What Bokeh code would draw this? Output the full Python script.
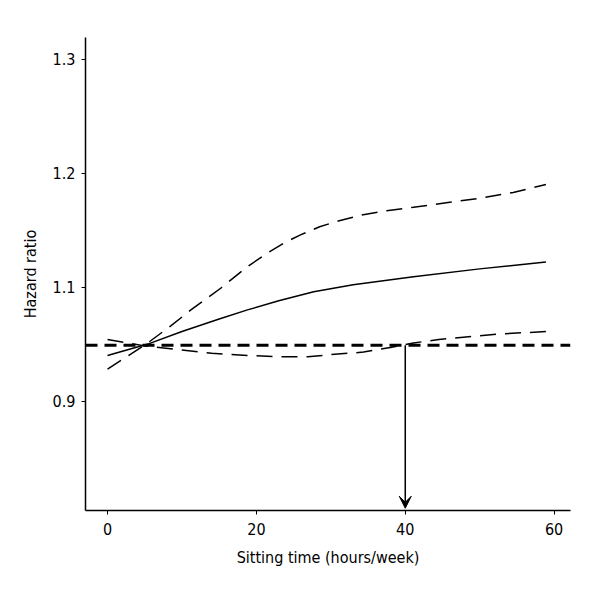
from bokeh.plotting import figure
from bokeh.models import Arrow, VeeHead, FixedTicker, Span
from bokeh.embed import file_html
from bokeh.resources import INLINE

# Data (y in plotted axis units; tick labels follow the reference)
x_hr = [0, 5.4, 10, 15, 18.8, 23, 27.7, 33, 41.1, 50, 58.9]
hr = [1.040, 1.050, 1.061, 1.072, 1.080, 1.088, 1.096, 1.102, 1.109, 1.116, 1.122]

x_up = [0, 5.4, 8.5, 11.2, 15.2, 18.8, 21.5, 23.8, 26, 28.5, 31, 34, 37.5, 41.1, 45.5, 50.1, 54.5, 58.9]
upper = [1.028, 1.051, 1.066, 1.080, 1.099, 1.118, 1.130, 1.139, 1.146, 1.153, 1.158, 1.163, 1.167, 1.170, 1.174, 1.178, 1.183, 1.190]

x_lo = [0, 5.4, 9.8, 14, 18.8, 22.5, 26.9, 30.5, 34.4, 38, 41.1, 44.5, 47.8, 53, 58.9]
lower = [1.054, 1.048, 1.045, 1.042, 1.040, 1.039, 1.039, 1.041, 1.043, 1.047, 1.051, 1.054, 1.056, 1.059, 1.061]

ref_y = 1.049
arrow_x = 40
arrow_y_end = 0.906

y_ticks = [1.0, 1.1, 1.2, 1.3]
y_tick_labels = ["0.9", "1.1", "1.2", "1.3"]
x_ticks = [0, 20, 40, 60]

FONT = "'Liberation Sans Narrow', 'DejaVu Sans Condensed', 'Roboto', sans-serif"

p = figure(width=584, height=584, output_backend="svg", toolbar_location=None,
           x_range=(-2.96, 62.2), y_range=(0.904, 1.319),
           min_border_left=85, min_border_right=14, min_border_top=37, min_border_bottom=74)
p.outline_line_color = None
p.xgrid.visible = False
p.ygrid.visible = False
p.background_fill_color = "white"

p.line(x_up, upper, line_color="black", line_width=1.5, line_dash="16 9")
p.line(x_lo, lower, line_color="black", line_width=1.5, line_dash="16 9")
p.line(x_hr, hr, line_color="black", line_width=1.5)

p.add_layout(Span(location=ref_y, dimension="width", line_color="black",
                  line_width=3, line_dash="12 7"))

p.add_layout(Arrow(end=VeeHead(size=12, fill_color="black", line_color="black"),
                   x_start=arrow_x, y_start=ref_y, x_end=arrow_x, y_end=arrow_y_end,
                   line_color="black", line_width=1.5))

p.yaxis.ticker = FixedTicker(ticks=y_ticks)
p.yaxis.major_label_overrides = dict(zip(y_ticks, y_tick_labels))
p.xaxis.ticker = FixedTicker(ticks=x_ticks)
p.xaxis.axis_label = "Sitting time (hours/week)"
p.yaxis.axis_label = "Hazard ratio"

for ax in (p.xaxis, p.yaxis):
    ax.axis_line_color = "black"
    ax.axis_line_width = 1.5
    ax.major_tick_line_color = "black"
    ax.major_tick_in = 0
    ax.major_tick_out = 4
    ax.minor_tick_line_color = None
    ax.major_label_text_font = FONT
    ax.major_label_text_font_size = "16px"
    ax.major_label_text_color = "black"
    ax.axis_label_text_font = FONT
    ax.axis_label_text_font_size = "16px"
    ax.axis_label_text_font_style = "normal"
    ax.axis_label_text_color = "black"
p.xaxis.major_label_standoff = 8
p.xaxis.axis_label_standoff = 10
p.yaxis.major_label_standoff = 6
p.yaxis.axis_label_standoff = 10

open("out.html", "w").write(file_html(p, INLINE))
